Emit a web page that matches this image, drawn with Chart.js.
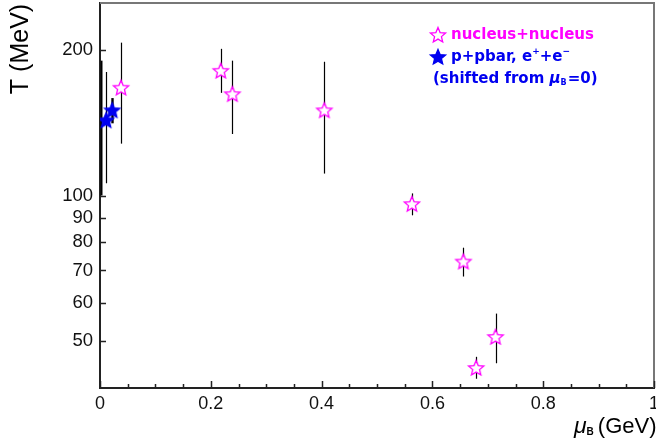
<!DOCTYPE html>
<html>
<head>
<meta charset="utf-8">
<script src="https://cdn.jsdelivr.net/npm/chart.js@4/dist/chart.umd.min.js"></script>
<style>
  html, body { margin: 0; padding: 0; background: #fff; }
  #wrap { width: 656px; height: 448px; }
</style>
</head>
<body>
<div id="wrap"><canvas id="freezeout"></canvas></div>
<script>
"use strict";
// nucleus+nucleus freeze-out points
const aaMu = [0.038, 0.218, 0.239, 0.405, 0.563, 0.656, 0.679, 0.714];
const aaT = [167, 181, 162, 150, 96, 73, 44, 51];
const aaTLow = [128, 163, 134, 111, 91, 68, 41.8, 45];
const aaTHigh = [207, 201, 190, 189, 101, 78, 46.4, 57];
// p+pbar, e+e- (shifted from muB = 0)
const eeMu = [0.011, 0.022];
const eeT = [143, 150];
const eeTLow = [106, 141];
const eeTHigh = [180, 159];
// error bar sitting on muB = 0 (no marker visible)
const zeroMu = [0.001];
const zeroT = [140];
const zeroTLow = [100];
const zeroTHigh = [190];

const yTicks = [50, 60, 70, 80, 90, 100, 200];
const xMajor = [0, 0.2, 0.4, 0.6, 0.8, 1];
const xMinor = [0.05, 0.1, 0.15, 0.25, 0.3, 0.35, 0.45, 0.5, 0.55, 0.65, 0.7, 0.75, 0.85, 0.9, 0.95];

const MAGENTA = "#ff00ff";
const BLUE = "#0000f0";
const LEGEND_FONT = "'DejaVu Sans', Verdana, sans-serif";
const AXIS_FONT = "'Liberation Sans', Arial, sans-serif";

const makeStar = (filled, color, rOut) => {
    const size = Math.ceil(rOut * 2 + 4);
    const c = document.createElement("canvas");
    c.width = size;
    c.height = size;
    const g = c.getContext("2d");
    const cx = size / 2, cy = size / 2 + 0.5, rIn = rOut * 0.45;
    g.beginPath();
    for (let i = 0; i < 10; i++) {
        const r = i % 2 === 0 ? rOut : rIn;
        const a = -Math.PI / 2 + i * Math.PI / 5;
        const px = cx + r * Math.cos(a), py = cy + r * Math.sin(a);
        if (i === 0) g.moveTo(px, py); else g.lineTo(px, py);
    }
    g.closePath();
    g.fillStyle = filled ? color : "#fff";
    g.fill();
    g.strokeStyle = color;
    g.lineWidth = 1.3;
    g.stroke();
    return c;
};

const hollowStar = makeStar(false, MAGENTA, 8);
const fullStar = makeStar(true, BLUE, 8);

const toPoints = (xs, ys) => xs.map((x, i) => ({ x: x, y: ys[i] }));

const errorBars = [
    { mu: zeroMu, lo: zeroTLow, hi: zeroTHigh, width: 2 },
    { mu: eeMu, lo: eeTLow, hi: eeTHigh, width: [1.2, 2.4] },
    { mu: aaMu, lo: aaTLow, hi: aaTHigh, width: 1.2 },
];

const drawRun = (ctx, parts, x, y) => {
    parts.forEach(p => {
        ctx.font = p.font;
        ctx.fillText(p.text, x, y + (p.dy || 0));
        x += ctx.measureText(p.text).width + (p.gap || 0);
    });
};

const decorPlugin = {
    id: "decor",
    beforeDatasetsDraw(chart) {
        const ctx = chart.ctx;
        const xs = chart.scales.x, ys = chart.scales.y;
        ctx.save();
        ctx.strokeStyle = "#000";
        errorBars.forEach(set => {
            set.mu.forEach((m, i) => {
                const px = Math.round(xs.getPixelForValue(m)) + 0.5;
                ctx.lineWidth = Array.isArray(set.width) ? set.width[i] : set.width;
                ctx.beginPath();
                ctx.moveTo(px, ys.getPixelForValue(set.lo[i]));
                ctx.lineTo(px, ys.getPixelForValue(set.hi[i]));
                ctx.stroke();
            });
        });
        ctx.restore();
    },
    afterDraw(chart) {
        const ctx = chart.ctx;
        const a = chart.chartArea;
        const xs = chart.scales.x, ys = chart.scales.y;
        ctx.save();
        // top and right frame
        ctx.strokeStyle = "#777";
        ctx.lineWidth = 2;
        ctx.beginPath();
        ctx.moveTo(a.left, a.top);
        ctx.lineTo(a.right, a.top);
        ctx.lineTo(a.right, a.bottom);
        ctx.stroke();
        // inward tick marks
        ctx.strokeStyle = "#222";
        ctx.lineWidth = 1.5;
        ctx.beginPath();
        xMajor.forEach(v => {
            const px = Math.round(xs.getPixelForValue(v)) + 0.5;
            ctx.moveTo(px, a.bottom);
            ctx.lineTo(px, a.bottom - 7);
        });
        xMinor.forEach(v => {
            const px = Math.round(xs.getPixelForValue(v)) + 0.5;
            ctx.moveTo(px, a.bottom);
            ctx.lineTo(px, a.bottom - 4);
        });
        yTicks.forEach(v => {
            const py = Math.round(ys.getPixelForValue(v)) + 0.5;
            ctx.moveTo(a.left, py);
            ctx.lineTo(a.left + 6, py);
        });
        ctx.stroke();

        // axis titles
        ctx.fillStyle = "#000";
        ctx.textBaseline = "middle";
        ctx.save();
        ctx.translate(21, 49);
        ctx.rotate(-Math.PI / 2);
        ctx.textAlign = "center";
        ctx.font = "25px " + AXIS_FONT;
        ctx.fillText("T (MeV)", 0, 0);
        ctx.restore();

        ctx.textAlign = "left";
        drawRun(ctx, [
            { text: "\u03bc", font: "italic 23px " + AXIS_FONT },
            { text: "B", font: "bold 10px " + AXIS_FONT, dy: 5, gap: 4 },
            { text: "(GeV)", font: "22px " + AXIS_FONT },
        ], 574, 427);

        // legend block
        ctx.drawImage(hollowStar, 438 - hollowStar.width / 2, 35 - hollowStar.height / 2);
        ctx.drawImage(fullStar, 438 - fullStar.width / 2, 57 - fullStar.height / 2);
        ctx.fillStyle = MAGENTA;
        ctx.font = "bold 15px " + LEGEND_FONT;
        ctx.fillText("nucleus+nucleus", 451, 35);
        ctx.fillStyle = BLUE;
        drawRun(ctx, [
            { text: "p+pbar, e", font: "bold 15px " + LEGEND_FONT },
            { text: "+", font: "bold 9px " + LEGEND_FONT, dy: -5 },
            { text: "+e", font: "bold 15px " + LEGEND_FONT },
            { text: "\u2212", font: "bold 9px " + LEGEND_FONT, dy: -5 },
        ], 451, 57);
        drawRun(ctx, [
            { text: "(shifted from ", font: "bold 15px " + LEGEND_FONT },
            { text: "\u03bc", font: "italic bold 15px " + LEGEND_FONT },
            { text: "B", font: "bold 8px " + LEGEND_FONT, dy: 4, gap: 1 },
            { text: "=0)", font: "bold 15px " + LEGEND_FONT },
        ], 433, 79);
        ctx.restore();
    },
};

const chartConfig = {
    type: "scatter",
    data: {
        datasets: [
            {
                label: "nucleus+nucleus",
                data: toPoints(aaMu, aaT),
                pointStyle: hollowStar,
                pointRadius: 8,
            },
            {
                label: "p+pbar, e+e-",
                data: toPoints(eeMu, eeT),
                pointStyle: fullStar,
                pointRadius: 8,
            },
            {
                label: "muB=0",
                data: toPoints(zeroMu, zeroT),
                pointRadius: 0,
            },
        ],
    },
    options: {
        responsive: true,
        maintainAspectRatio: false,
        animation: false,
        layout: { autoPadding: false, padding: { top: 3, right: 2, left: 0, bottom: 0 } },
        plugins: {
            legend: { display: false },
            tooltip: { enabled: false },
        },
        scales: {
            x: {
                type: "linear",
                min: 0,
                max: 1,
                afterBuildTicks: (scale) => {
                    scale.ticks = xMajor.map(v => ({ value: v }));
                },
                afterFit: (scale) => {
                    scale.height = 60;
                    scale.paddingLeft = 0;
                    scale.paddingRight = 0;
                },
                grid: { display: false, drawTicks: false },
                border: { display: true, color: "#222", width: 2 },
                ticks: {
                    padding: 5,
                    color: "#111",
                    font: { family: AXIS_FONT, size: 18 },
                    callback: (v) => String(v),
                },
            },
            y: {
                type: "logarithmic",
                min: 40,
                max: 250,
                afterBuildTicks: (scale) => {
                    scale.ticks = yTicks.map(v => ({ value: v }));
                },
                afterFit: (scale) => {
                    scale.width = 100;
                    scale.paddingTop = 0;
                    scale.paddingBottom = 0;
                },
                grid: { display: false, drawTicks: false },
                border: { display: true, color: "#222", width: 2 },
                ticks: {
                    padding: 7,
                    color: "#111",
                    font: { family: AXIS_FONT, size: 18.5 },
                    callback: (v) => String(v),
                },
            },
        },
    },
    plugins: [decorPlugin],
};

const loadChart = () => {
    const canvas = document.getElementById("freezeout");
    if (!canvas) {
        return;
    }
    new Chart(canvas, chartConfig);
};
loadChart();
</script>
</body>
</html>
